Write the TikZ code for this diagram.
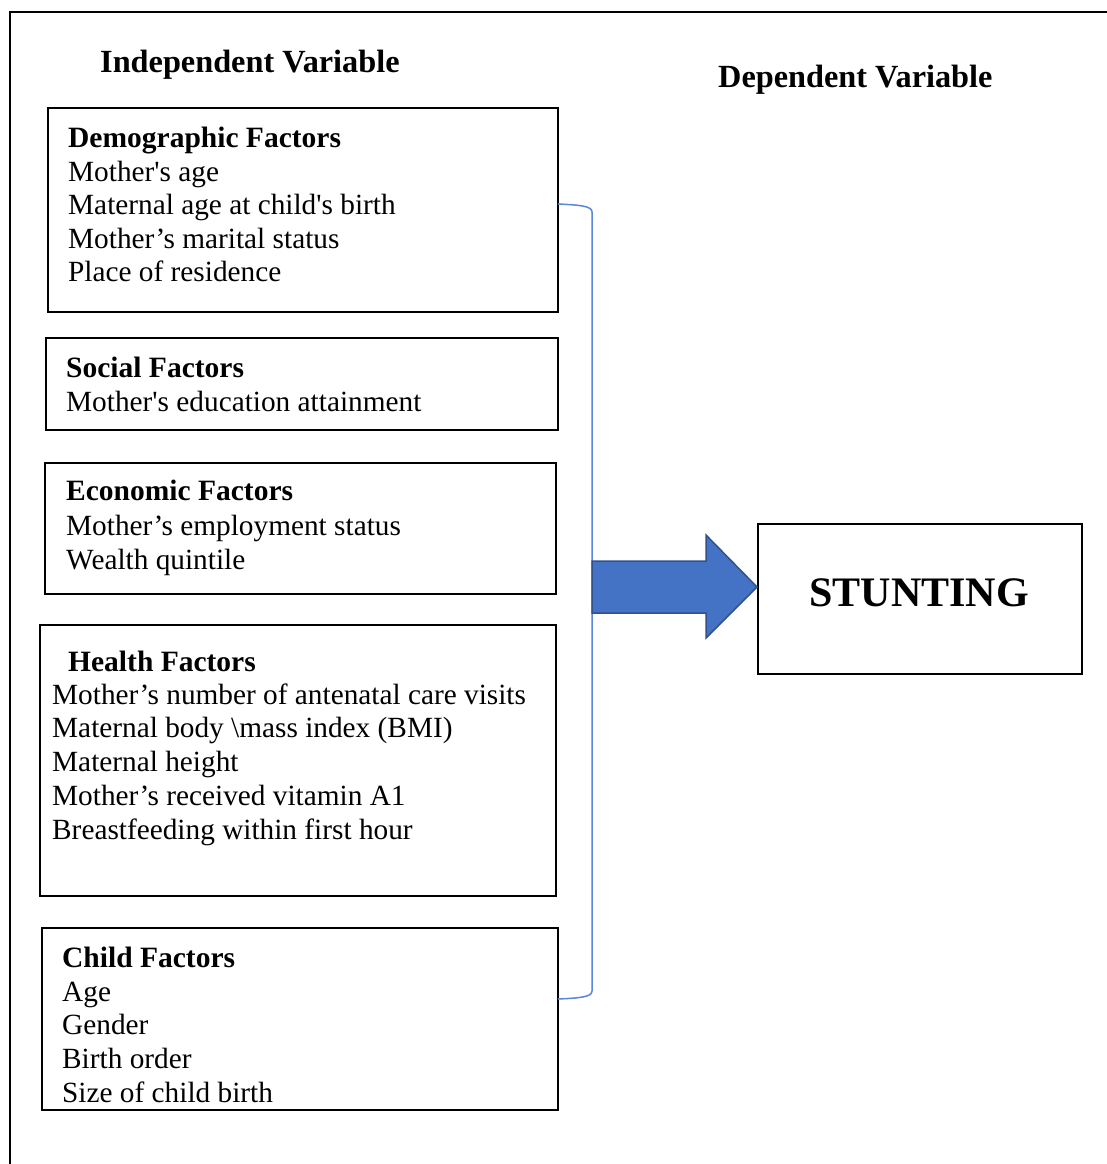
\documentclass[tikz,border=0pt]{standalone}
\usepackage{fontspec}
\newfontfamily\tnr{Liberation Serif}
\definecolor{arrowfill}{RGB}{68,114,196}
\definecolor{arrowedge}{RGB}{47,82,143}
\definecolor{bracketblue}{RGB}{90,135,215}
\begin{document}
\begin{tikzpicture}[x=1pt,y=-1pt,
  txt/.style={font=\tnr\fontsize{29.3}{34}\selectfont, anchor=base west, inner sep=0pt},
  head/.style={font=\tnr\bfseries\fontsize{29.5}{34}\selectfont, anchor=base west, inner sep=0pt},
  title/.style={font=\tnr\bfseries\fontsize{32.3}{38}\selectfont, anchor=base west, inner sep=0pt},
  factorbox/.style={draw=black, line width=2pt},
]
\useasboundingbox (0,0) rectangle (1106,1164);
\fill[white] (0,0) rectangle (1106,1164);
% outer frame (cut at right and bottom)
\draw[line width=2pt] (1110,12) -- (10,12) -- (10,1170);

% titles
\node[title] (indep) at (100,73) {Independent Variable};
\node[title] (dep) at (718,87) {Dependent Variable};

% boxes
\draw[factorbox] (48,108) rectangle (558,312);
\draw[factorbox] (46,338) rectangle (558,430);
\draw[factorbox] (45,463) rectangle (556,594);
\draw[factorbox] (40,625) rectangle (556,896);
\draw[factorbox] (42,928) rectangle (558,1110);
\node[draw=black, line width=2pt, minimum width=324pt, minimum height=150pt, inner sep=0pt] (stunt) at (920,599) {};

% demographic
\node[head] (demoh) at (68,147) {Demographic Factors};
\foreach \t [count=\i from 0] in {Mother's age, Maternal age at child's birth, Mother’s marital status, Place of residence}
  \node[txt] (demo-\i) at (68,181+33.6*\i) {\t};
% social
\node[head] (soch) at (66,377) {Social Factors};
\node[txt] (soc-0) at (66,411) {Mother's education attainment};
% economic
\node[head] (ecoh) at (66,500) {Economic Factors};
\foreach \t [count=\i from 0] in {Mother’s employment status, Wealth quintile}
  \node[txt] (eco-\i) at (66,535+34.5*\i) {\t};
% health
\node[head] (healh) at (68,671) {Health Factors};
\foreach \t [count=\i from 0] in {Mother’s number of antenatal care visits, Maternal body \textbackslash mass index (BMI), Maternal height, Mother’s received vitamin A1, Breastfeeding within first hour}
  \node[txt] (heal-\i) at (52,704+33.8*\i) {\t};
% child
\node[head] (chih) at (62,967) {Child Factors};
\foreach \t [count=\i from 0] in {Age, Gender, Birth order, Size of child birth}
  \node[txt] (chi-\i) at (62,1001+33.7*\i) {\t};

% stunting label
\node[font=\tnr\bfseries\fontsize{42}{48}\selectfont, anchor=base, inner sep=0pt] (stuntlbl) at (919,606) {STUNTING};

% bracket
\coordinate (bt) at (558,204);
\coordinate (bb) at (558,999);
\draw[bracketblue, line width=1.5pt] (bt) .. controls (580,205) and (592,206) .. (592,212) -- (592,991) .. controls (592,997) and (580,998) .. (bb);

% big arrow
\coordinate (tip) at (stunt.west |- 0,587);
\draw[fill=arrowfill, draw=arrowedge, line width=1.5pt, line join=miter]
  (592,561) -- (706,561) -- (706,535) -- (tip) -- (706,638) -- (706,613) -- (592,613) -- cycle;
\end{tikzpicture}
\end{document}
